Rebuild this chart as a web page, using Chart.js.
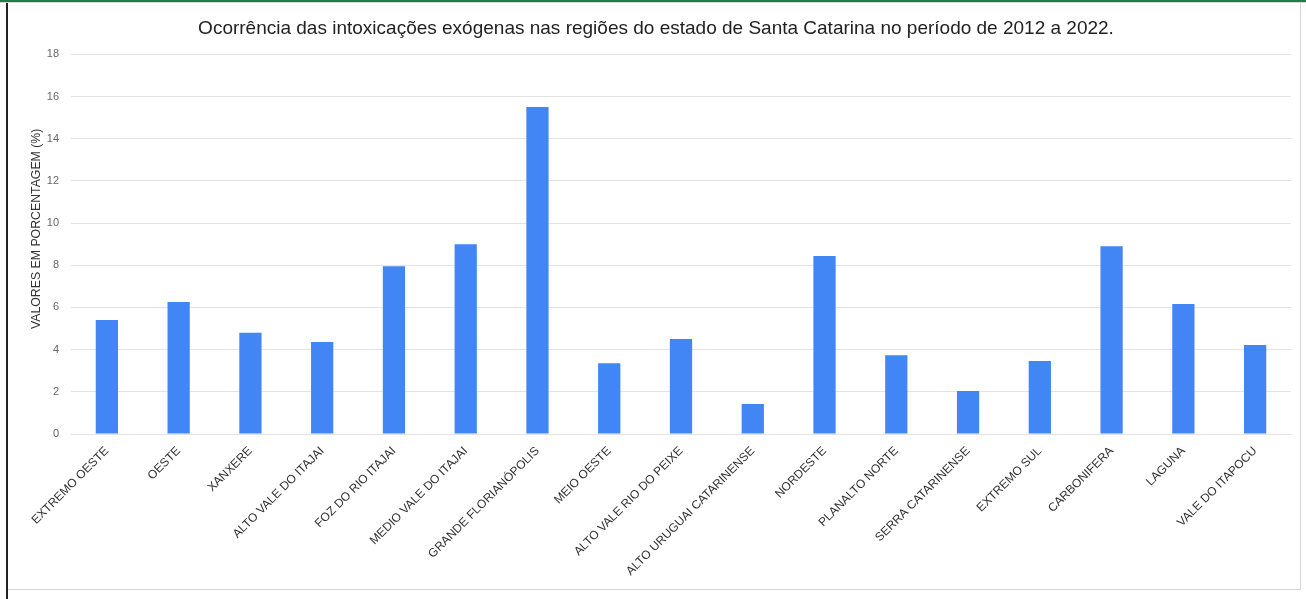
<!DOCTYPE html>
<html>
<head>
<meta charset="utf-8">
<script src="https://cdn.jsdelivr.net/npm/chart.js@4"></script>
<style>
  html, body { margin: 0; padding: 0; background: #fff; }
  #wrap { position: relative; width: 1306px; height: 599px; overflow: hidden; }
  #chart { position: absolute; left: 0; top: 0; }
  .line { position: absolute; }
</style>
</head>
<body>
<div id="wrap">
  <canvas id="chart" width="1306" height="599"></canvas>
  <div class="line" style="left:0;top:0;width:1306px;height:2px;background:#17804a;"></div>
  <div class="line" style="left:0;top:2px;width:1306px;height:1px;background:#d8d8d8;"></div>
  <div class="line" style="left:6px;top:3px;width:2px;height:596px;background:#222;"></div>
  <div class="line" style="left:1300px;top:3px;width:1px;height:587px;background:#d6d6d6;"></div>
  <div class="line" style="left:8px;top:589px;width:1293px;height:1px;background:#d6d6d6;"></div>
</div>
<script>
var regions = ['EXTREMO OESTE', 'OESTE', 'XANXERE', 'ALTO VALE DO ITAJAI', 'FOZ DO RIO ITAJAI',
    'MEDIO VALE DO ITAJAI', 'GRANDE FLORIANÓPOLIS', 'MEIO OESTE', 'ALTO VALE RIO DO PEIXE',
    'ALTO URUGUAI CATARINENSE', 'NORDESTE', 'PLANALTO NORTE', 'SERRA CATARINENSE',
    'EXTREMO SUL', 'CARBONIFERA', 'LAGUNA', 'VALE DO ITAPOCU'];
var percentages = [5.4, 6.26, 4.8, 4.36, 7.96, 9.0, 15.5, 3.36, 4.5, 1.42, 8.44, 3.74, 2.04, 3.46, 8.9, 6.16, 4.22];
var yTicks = [0, 2, 4, 6, 8, 10, 12, 14, 16, 18];

var font = '"Liberation Sans", Arial, sans-serif';

new Chart(document.getElementById('chart'), {
    type: 'bar',
    data: {
        labels: regions,
        datasets: [{
            label: 'Valores',
            data: percentages,
            backgroundColor: '#4285f4',
            borderWidth: 0,
            categoryPercentage: 1,
            barPercentage: 0.31
        }]
    },
    options: {
        responsive: false,
        animation: false,
        layout: { padding: { left: 21, right: 15, top: 0, bottom: 0 } },
        plugins: {
            legend: { display: false },
            tooltip: { enabled: false },
            title: {
                display: true,
                text: 'Ocorrência das intoxicações exógenas nas regiões do estado de Santa Catarina no período de 2012 a 2022.',
                color: '#222',
                font: { family: font, size: 19, weight: 'normal' },
                padding: { top: 17, bottom: 14.6 }
            }
        },
        scales: {
            x: {
                grid: { display: false, drawTicks: false },
                border: { display: false },
                ticks: {
                    color: '#333',
                    font: { family: font, size: 12 },
                    autoSkip: false,
                    maxRotation: 45,
                    minRotation: 45,
                    padding: 10
                },
                afterFit: function (scale) { scale.height = 165; }
            },
            y: {
                min: 0,
                max: 18,
                afterBuildTicks: function (scale) {
                    scale.ticks = yTicks.map(function (v) { return { value: v }; });
                },
                grid: { color: '#e3e3e3', drawTicks: false },
                border: { display: false },
                ticks: {
                    color: '#666',
                    font: { family: font, size: 11 },
                    padding: 12
                },
                title: {
                    display: true,
                    // leading spaces nudge the rotated text upward
                    text: '         VALORES EM PORCENTAGEM (%)',
                    color: '#333',
                    font: { family: font, size: 12.3 },
                    padding: { top: 8, bottom: 0 }
                },
                afterFit: function (scale) { scale.width = 50; }
            }
        }
    }
});
</script>
</body>
</html>
